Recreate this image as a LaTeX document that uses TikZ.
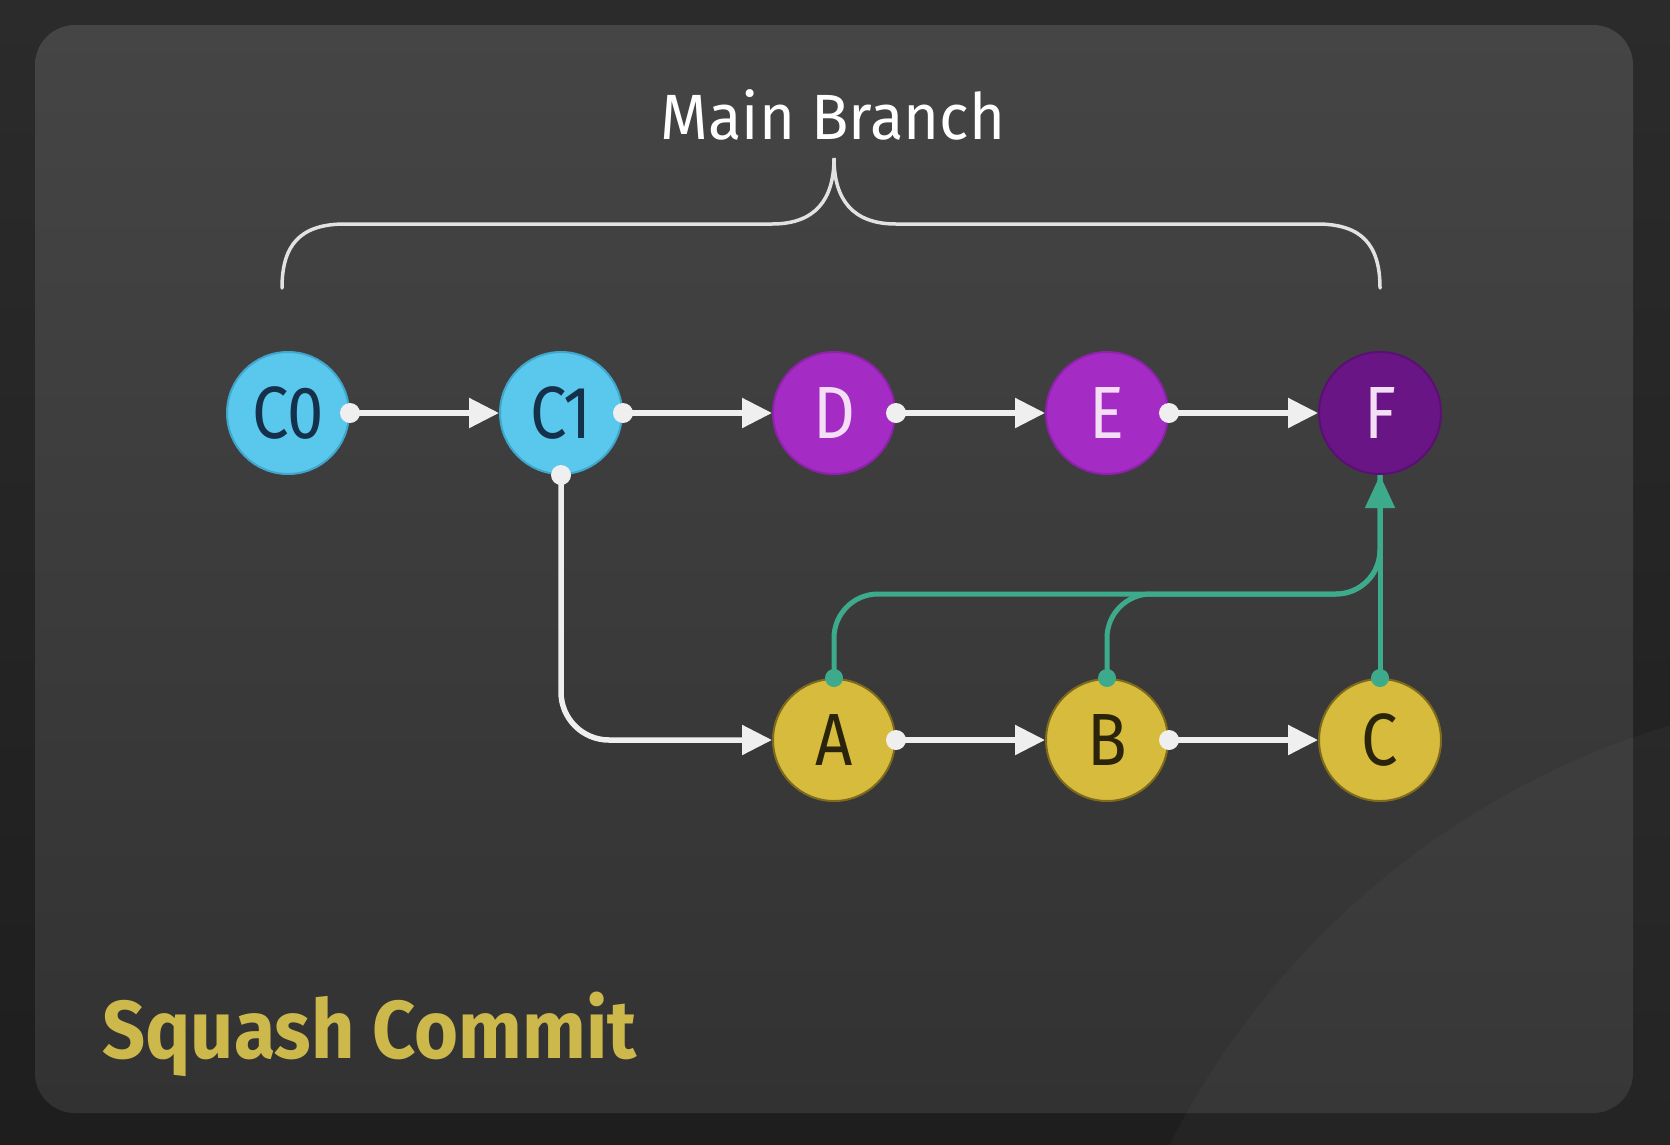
\documentclass[tikz,border=0pt]{standalone}
\usepackage{fontspec}
\setmainfont{Fira Sans}
\newfontfamily\labelfont[FakeStretch=0.88]{Fira Sans}
\newfontfamily\headfont[FakeStretch=0.96]{Fira Sans}
\newfontfamily\captionfont[FakeStretch=0.92]{Fira Sans}
\usetikzlibrary{arrows.meta}

\definecolor{bgtop}{HTML}{2B2B2B}
\definecolor{bgbot}{HTML}{1E1E1E}
\definecolor{paneltop}{HTML}{454545}
\definecolor{panelbot}{HTML}{323232}
\definecolor{cblue}{HTML}{5AC8EC}
\definecolor{cblueD}{HTML}{3FA6CC}
\definecolor{cbluetext}{HTML}{15304A}
\definecolor{cpurple}{HTML}{A52BC5}
\definecolor{cpurpleD}{HTML}{8E22AA}
\definecolor{cdark}{HTML}{6A1585}
\definecolor{cdarkD}{HTML}{5A0F72}
\definecolor{cpurpletext}{HTML}{F3DEF5}
\definecolor{cyellow}{HTML}{D7BB3C}
\definecolor{cyellowD}{HTML}{7D6A1C}
\definecolor{cyellowtext}{HTML}{2B240C}
\definecolor{wline}{HTML}{EFEFEF}
\definecolor{gline}{HTML}{3DAA8C}
\definecolor{capyellow}{HTML}{CDB84C}
\definecolor{bracecol}{HTML}{E2E2E2}

\tikzset{
  commit/.style={circle, minimum size=122pt, inner sep=0pt, line width=2pt,
    font=\labelfont\fontsize{74}{74}\selectfont},
  bluecommit/.style={commit, fill=cblue, draw=cblueD, text=cbluetext},
  purplecommit/.style={commit, fill=cpurple, draw=cpurpleD, text=cpurpletext},
  darkcommit/.style={commit, fill=cdark, draw=cdarkD, text=cpurpletext},
  yellowcommit/.style={commit, fill=cyellow, draw=cyellowD, text=cyellowtext},
  flow/.style={draw=wline, line width=5.5pt, -{Triangle[length=30pt,width=29pt]}},
  merge/.style={draw=gline, line width=5pt},
  mergetip/.style={merge, -{Triangle[length=33pt,width=29pt]}},
  wdot/.style={fill=wline},
  gdot/.style={fill=gline},
}

\begin{document}
\begin{tikzpicture}[x=1pt,y=-1pt]
  % page and card
  \shade[top color=bgtop, bottom color=bgbot] (0,0) rectangle (1670,1144);
  \useasboundingbox (0,0) rectangle (1670,1144);
  \shade[top color=paneltop, bottom color=panelbot, rounded corners=40]
    (35,25) rectangle (1633,1113);
  \begin{scope}
    \clip (0,0) rectangle (1670,1144);
    \fill[white, opacity=0.028] (1910,1520) circle (830);
  \end{scope}

  % heading and brace
  \node[font=\headfont\fontsize{64}{64}\selectfont, text=white, anchor=base]
    (title) at (833,139) {Main Branch};
  \draw[bracecol, line width=3.5pt, line cap=round]
    (282,288) .. controls (282,245) and (300,224) .. (345,224)
    -- (772,224) .. controls (815,224) and (834,200) .. (834,158)
    .. controls (834,200) and (853,224) .. (896,224)
    -- (1317,224) .. controls (1362,224) and (1380,245) .. (1380,288);

  % commits
  \node[bluecommit]   (C0) at (288,413)  {C0};
  \node[bluecommit]   (C1) at (561,413)  {C1};
  \node[purplecommit] (D)  at (834,413)  {D};
  \node[purplecommit] (E)  at (1107,413) {E};
  \node[darkcommit]   (F)  at (1380,413) {F};
  \node[yellowcommit] (A)  at (834,740)  {A};
  \node[yellowcommit] (B)  at (1107,740) {B};
  \node[yellowcommit] (C)  at (1380,740) {C};

  % history arrows
  \draw[flow] (C0.east) -- (C1.west);
  \draw[flow] (C1.east) -- (D.west);
  \draw[flow] (D.east) -- (E.west);
  \draw[flow] (E.east) -- (F.west);
  \draw[flow, rounded corners=48] (C1.south) |- (A.west);
  \draw[flow] (A.east) -- (B.west);
  \draw[flow] (B.east) -- (C.west);
  \foreach \n/\a in {C0/east, C1/east, D/east, E/east, C1/south, A/east, B/east}
    \fill[wdot] (\n.\a) circle (10);

  % squash into F
  \coordinate (bus) at (0,594);
  \draw[merge, rounded corners=44] (A.north) |- (bus -| F.south) -- (F.south);
  \draw[merge, rounded corners=44] (B.north) |- (bus -| F.south) -- (F.south);
  \draw[mergetip] (C.north) -- (F.south);
  \foreach \n in {A, B, C}
    \fill[gdot] (\n.north) circle (9);

  % caption
  \node[font=\captionfont\bfseries\fontsize{82}{82}\selectfont, text=capyellow,
    anchor=base west] (caption) at (99,1058) {Squash Commit};
\end{tikzpicture}
\end{document}
